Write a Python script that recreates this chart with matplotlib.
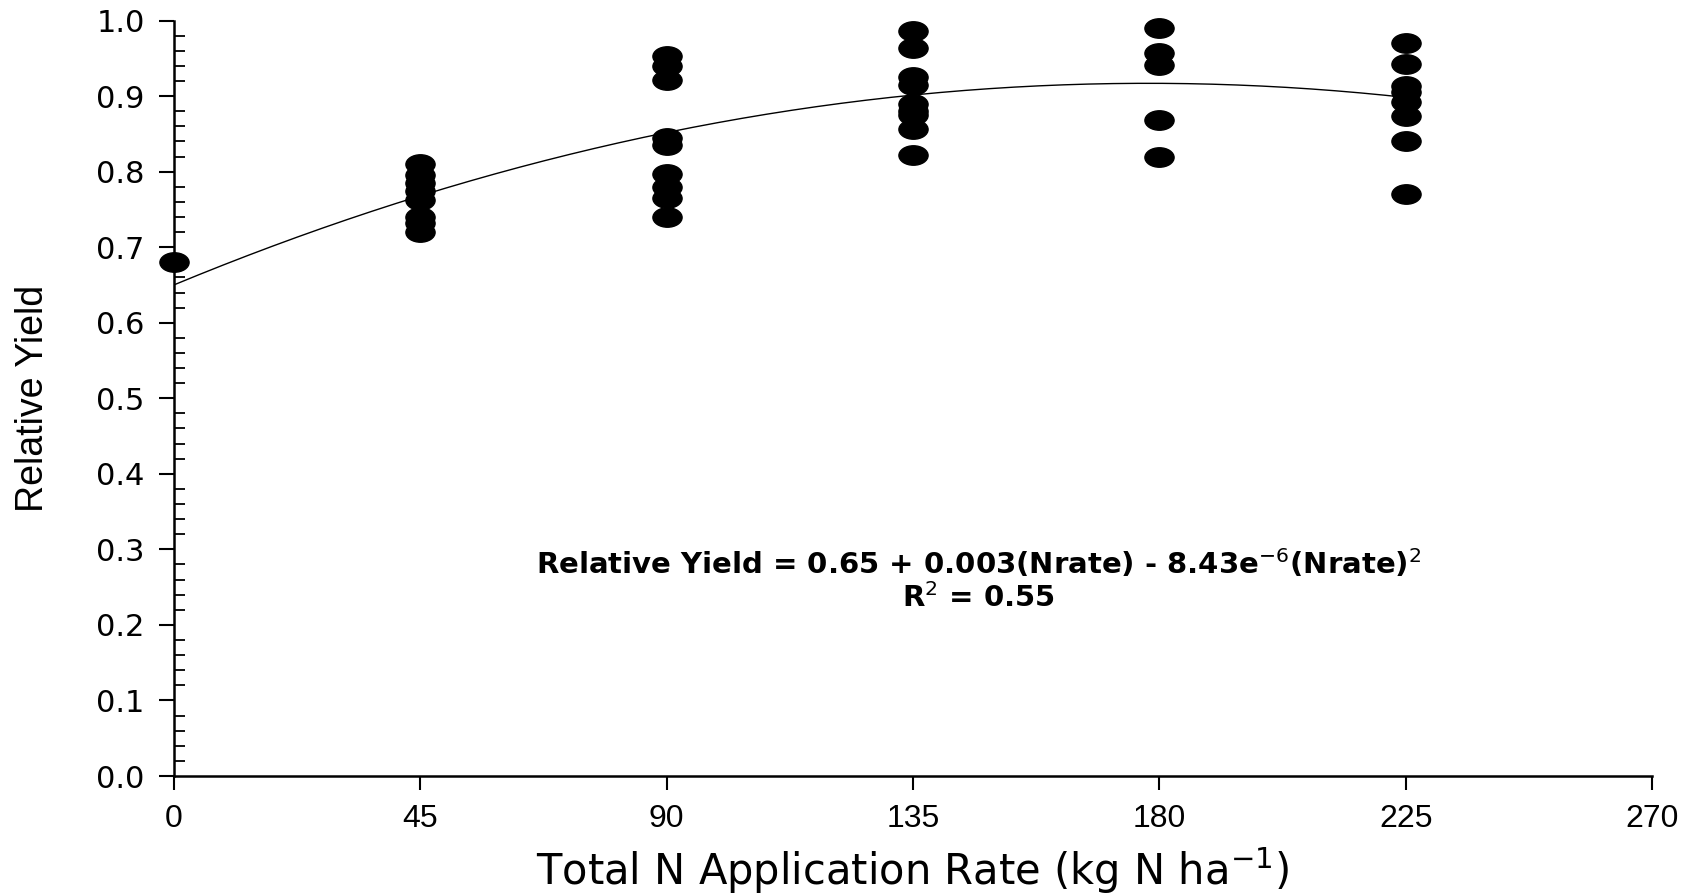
import matplotlib
matplotlib.use("Agg")
import matplotlib.pyplot as plt
import numpy as np
from matplotlib.markers import MarkerStyle
from matplotlib.transforms import Affine2D
from matplotlib.ticker import MultipleLocator

plt.rcParams["font.family"] = ["DejaVu Sans"]
plt.rcParams["mathtext.fontset"] = "dejavusans"

# observed relative yield at each N rate
n_rates = [0, 45, 90, 135, 180, 225]
yields = [
    [0.68],
    [0.81, 0.795, 0.785, 0.775, 0.762, 0.74, 0.732, 0.72],
    [0.953, 0.94, 0.921, 0.845, 0.835, 0.797, 0.78, 0.765, 0.74],
    [0.986, 0.963, 0.925, 0.915, 0.89, 0.88, 0.875, 0.857, 0.822],
    [0.99, 0.957, 0.941, 0.868, 0.819],
    [0.97, 0.942, 0.914, 0.905, 0.892, 0.873, 0.84, 0.771],
]

# fitted quadratic
b0, b1, b2 = 0.65, 0.003, -8.43e-6

xticks = [0, 45, 90, 135, 180, 225, 270]

fig = plt.figure(figsize=(17.04, 8.93), dpi=100)
ax = fig.add_axes([0.102, 0.131, 0.8675, 0.846])

# fit line
xs = np.linspace(0, 225, 300)
ax.plot(xs, b0 + b1 * xs + b2 * xs ** 2, color="black", lw=1.0, zorder=2)

# ellipse markers
ell = MarkerStyle("o", transform=Affine2D().scale(1.5, 1.0))
for x, ys in zip(n_rates, yields):
    ax.plot([x] * len(ys), ys, linestyle="none", marker=ell, markersize=14,
            color="black", clip_on=False, zorder=3)

ax.set_xlim(0, 270)
ax.set_ylim(0, 1.0)

ax.spines["right"].set_visible(False)
ax.spines["top"].set_visible(False)
ax.spines["left"].set_linewidth(1.8)
ax.spines["bottom"].set_linewidth(1.8)

ax.set_xticks(xticks)
ax.set_yticks(np.arange(0, 1.01, 0.1))
ax.set_yticklabels([f"{v:.1f}" for v in np.arange(0, 1.01, 0.1)])
ax.yaxis.set_minor_locator(MultipleLocator(0.02))

ax.tick_params(axis="y", which="major", direction="out", length=11, width=1.5,
               pad=10, labelsize=22)
ax.tick_params(axis="y", which="minor", direction="in", length=8, width=1.3)
ax.tick_params(axis="x", which="major", direction="out", length=10, width=1.5,
               pad=10, labelsize=21)
for lbl in ax.get_xticklabels():
    lbl.set_family("Liberation Sans")
    lbl.set_fontsize(23)

# axis titles
fig.text(0.5355, 0.009, "Total N Application Rate (kg N ha$^{-1}$)",
         ha="center", va="baseline", fontsize=30)
ax.set_ylabel("Relative Yield", fontsize=27, family="Liberation Sans")
ax.yaxis.set_label_coords(-0.083, 0.5)

ax.text(147, 0.281,
        r"Relative Yield = 0.65 + 0.003(Nrate) - 8.43e$^{-6}$(Nrate)$^{2}$",
        ha="center", va="center", fontsize=21, fontweight="bold")
ax.text(147, 0.236, r"R$^{2}$ = 0.55", ha="center", va="center",
        fontsize=21, fontweight="bold")

fig.savefig("out.png", dpi=100)
